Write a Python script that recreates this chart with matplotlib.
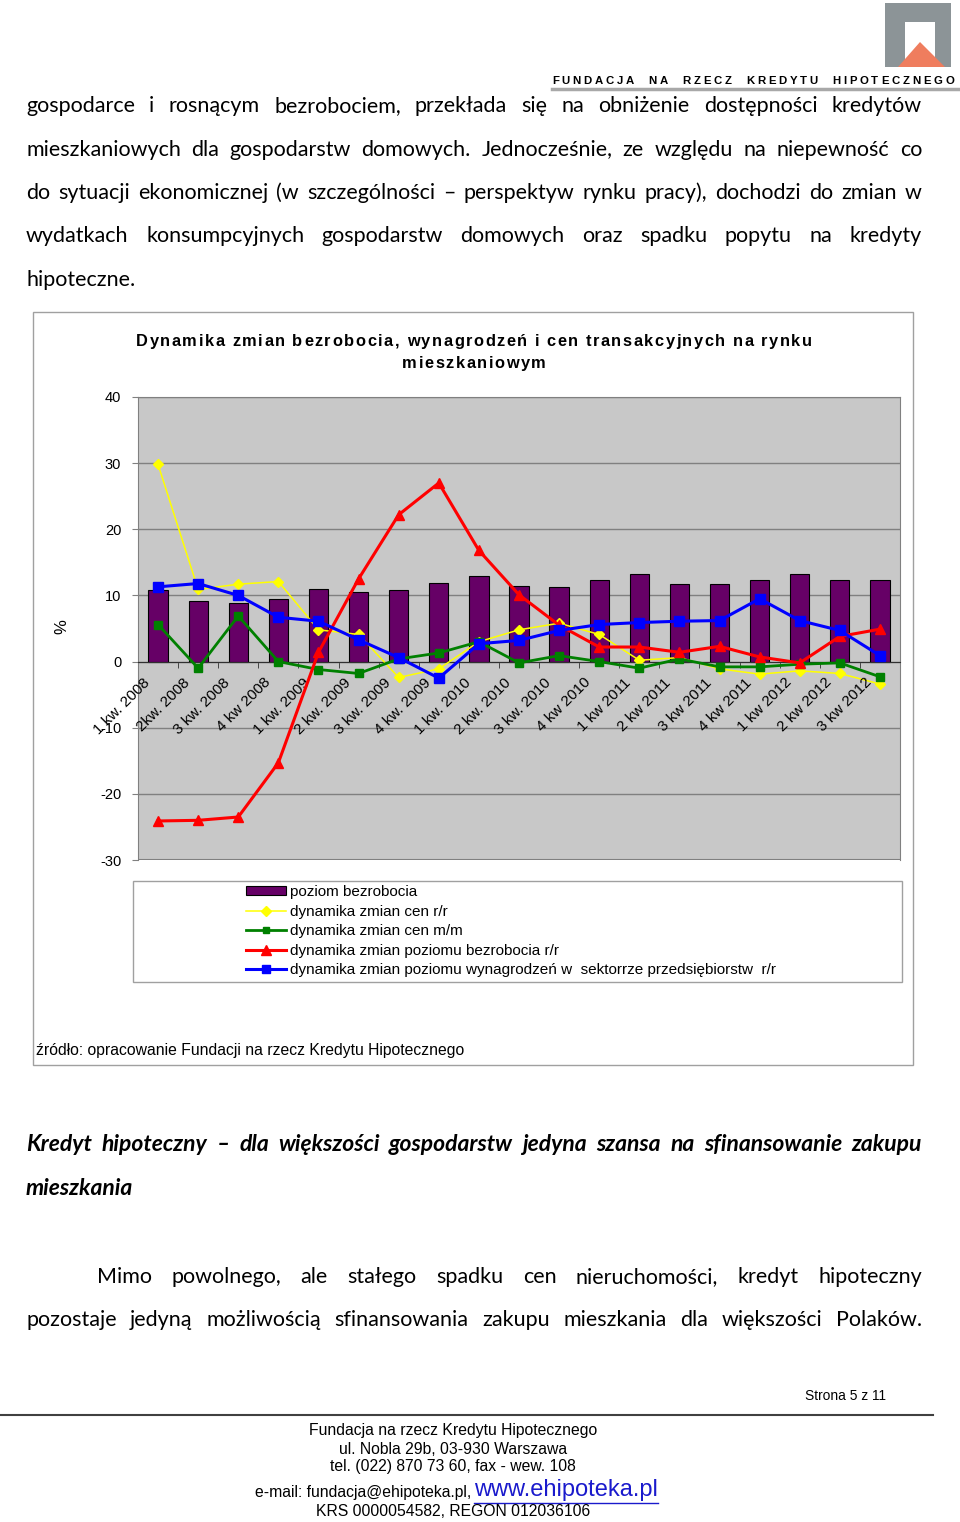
import matplotlib
matplotlib.use("Agg")
import matplotlib.pyplot as plt
import matplotlib.patches as mpatches
from matplotlib.lines import Line2D
import numpy as np

# ── Data ─────────────────────────────────────────────────────────────────────
quarters = ["1 kw. 2008", "2kw. 2008", "3 kw. 2008", "4 kw 2008",
            "1 kw. 2009", "2 kw. 2009", "3 kw. 2009", "4 kw. 2009",
            "1 kw. 2010", "2 kw. 2010", "3 kw. 2010", "4 kw 2010",
            "1 kw 2011", "2 kw 2011", "3 kw 2011", "4 kw 2011",
            "1 kw 2012", "2 kw 2012", "3 kw 2012"]
bezrobocie = [10.8, 9.2, 8.8, 9.4, 10.9, 10.5, 10.8, 11.9, 12.9, 11.5,
              11.3, 12.3, 13.3, 11.7, 11.7, 12.3, 13.3, 12.3, 12.3]
ceny_rr = [29.8, 10.9, 11.7, 12.1, 4.8, 4.1, -2.4, -1.1, 3.0, 4.8,
           5.8, 4.1, 0.2, 0.6, -1.1, -1.9, -1.4, -1.8, -3.4]
ceny_mm = [5.6, -1.0, 6.9, 0.0, -1.2, -1.8, 0.4, 1.3, 3.0, -0.2,
           0.9, 0.0, -1.0, 0.4, -0.8, -0.8, -0.4, -0.2, -2.3]
bezrobocie_rr = [-24.1, -24.0, -23.5, -15.3, 1.4, 12.5, 22.2, 27.0, 16.8, 10.1,
                 5.5, 2.2, 2.2, 1.4, 2.3, 0.7, -0.2, 3.8, 4.9]
wynagrodzenia_rr = [11.3, 11.8, 10.0, 6.7, 6.1, 3.3, 0.6, -2.5, 2.7, 3.2,
                    4.7, 5.6, 5.9, 6.1, 6.2, 9.5, 6.2, 4.7, 0.9]
y_ticks = [-30, -20, -10, 0, 10, 20, 30, 40]

# ── Page texts ───────────────────────────────────────────────────────────────
para1 = [
    "gospodarce i rosnącym bezrobociem, przekłada się na obniżenie dostępności kredytów",
    "mieszkaniowych dla gospodarstw domowych. Jednocześnie, ze względu na niepewność co",
    "do sytuacji ekonomicznej (w szczególności – perspektyw rynku pracy), dochodzi do zmian w",
    "wydatkach konsumpcyjnych gospodarstw domowych oraz spadku popytu na kredyty",
]
para1_last = "hipoteczne."
heading = "Kredyt hipoteczny – dla większości gospodarstw jedyna szansa na sfinansowanie zakupu"
heading_last = "mieszkania"
para2 = ["Mimo powolnego, ale stałego spadku cen nieruchomości, kredyt hipoteczny",
         "pozostaje jedyną możliwością sfinansowania zakupu mieszkania dla większości Polaków."]
chart_title = ["Dynamika zmian bezrobocia, wynagrodzeń i cen transakcyjnych na rynku",
               "mieszkaniowym"]

W, H = 960, 1522
fig = plt.figure(figsize=(W / 100, H / 100), dpi=100)
fig.patch.set_facecolor("white")
renderer = fig.canvas.get_renderer()

BODY = ["Lato", "DejaVu Sans"]
ARIAL = ["Liberation Sans", "DejaVu Sans"]


def fx(x):
    return x / W


def fy(y):
    return 1 - y / H


def ptext(x, y, s, **kw):
    return fig.text(fx(x), fy(y), s, **kw)


def width_of(s, **kw):
    t = ptext(0, 0, "|" + s + "|", **kw)
    t2 = ptext(0, 0, "||", **kw)
    w = t.get_window_extent(renderer).width - t2.get_window_extent(renderer).width
    t.remove()
    t2.remove()
    return w


def justify(line, x0, x1, yb, **kw):
    words = line.split()
    texts = [ptext(0, yb, w, va="baseline", ha="left", **kw) for w in words]
    widths = [t.get_window_extent(renderer).width for t in texts]
    gap = (x1 - x0 - sum(widths)) / (len(words) - 1)
    x = x0
    for t, w in zip(texts, widths):
        t.set_x(fx(x))
        x += w + gap


def tracked(s, x0, y, track, **kw):
    """Draw s char by char from x0 with extra spacing."""
    x = x0
    for c in s:
        w = width_of(c, **kw)
        if c != " ":
            ptext(x, y, c, ha="left", va="baseline", **kw)
        x += w + track


def tracked_width(s, track, **kw):
    return sum(width_of(c, **kw) for c in s) + track * (len(s) - 1)


def prect(x0, y0, x1, y1, **kw):
    fig.patches.append(mpatches.Rectangle((fx(x0), fy(y1)), fx(x1) - fx(x0),
                                          fy(y0) - fy(y1), transform=fig.transFigure,
                                          figure=fig, **kw))


def pline(xs, ys, **kw):
    fig.lines.append(Line2D([fx(x) for x in xs], [fy(y) for y in ys],
                            transform=fig.transFigure, figure=fig, **kw))


# ── Header logo ──────────────────────────────────────────────────────────────
prect(885, 3, 951, 67, facecolor="#8c9497", edgecolor="none")
prect(905, 22, 935, 67, facecolor="white", edgecolor="none")
fig.patches.append(mpatches.Polygon([(fx(898), fy(67)), (fx(920), fy(42)), (fx(945), fy(67))],
                                    closed=True, transform=fig.transFigure, figure=fig,
                                    facecolor="#ef7d5e", edgecolor="none"))
hdr = "FUNDACJA  NA  RZECZ  KREDYTU  HIPOTECZNEGO"
hdr_kw = dict(family=ARIAL, fontsize=8.2, fontweight="bold")
hdr_track = (954 - 552 - tracked_width(hdr, 0, **hdr_kw)) / (len(hdr) - 1)
tracked(hdr, 552, 84, hdr_track, **hdr_kw)
pline([552, 958], [88.5, 88.5], color="#a8a8a8", lw=2.5)

# ── Body text ────────────────────────────────────────────────────────────────
baselines = [112, 155.5, 199, 242.5]
for line, yb in zip(para1, baselines):
    justify(line, 26, 922, yb, family=BODY, fontsize=15.5)
ptext(26, 286, para1_last, family=BODY, fontsize=15.5, va="baseline")

justify(heading, 26, 922, 1151, family=BODY, fontsize=16.5, fontweight="bold", style="italic")
ptext(26, 1195, heading_last, family=BODY, fontsize=16.5, fontweight="bold",
      style="italic", va="baseline")
justify(para2[0], 97, 922, 1283, family=BODY, fontsize=15.5)
justify(para2[1], 26, 922, 1326, family=BODY, fontsize=15.5)

# ── Chart frame ──────────────────────────────────────────────────────────────
prect(33, 312, 913, 1065, facecolor="white", edgecolor="#a0a0a0", lw=1.0, zorder=0)
ttl_kw = dict(family=ARIAL, fontsize=11.8, fontweight="bold")
ttl_track = (676 - tracked_width(chart_title[0], 0, **ttl_kw)) / (len(chart_title[0]) - 1)
for s, yb in zip(chart_title, [346, 368]):
    w = tracked_width(s, ttl_track, **ttl_kw)
    tracked(s, 474 - w / 2, yb, ttl_track, **ttl_kw)
ptext(62, 627, "%", family=ARIAL, fontsize=12, rotation=90, ha="center", va="center")

ax = fig.add_axes([fx(138), fy(860), fx(900) - fx(138), fy(397) - fy(860)])
ax.set_zorder(3)
ax.set_facecolor("#c8c8c8")
x = np.arange(len(quarters))
ax.bar(x, bezrobocie, width=0.48, color="#660066", edgecolor="black", lw=0.8, zorder=2)
ax.plot(x, ceny_rr, color="#ffff00", lw=1.1, marker="D", ms=5.5, zorder=3)
ax.plot(x, ceny_mm, color="#008000", lw=2.0, marker="s", ms=5.5, zorder=4)
ax.plot(x, bezrobocie_rr, color="#ff0000", lw=2.2, marker="^", ms=7, zorder=5)
ax.plot(x, wynagrodzenia_rr, color="#0000ff", lw=2.2, marker="s", ms=6.5, zorder=6)

ax.set_xlim(-0.5, len(quarters) - 0.5)
ax.set_ylim(y_ticks[0], y_ticks[-1])
ax.set_yticks(y_ticks)
ax.set_yticklabels([str(v) for v in y_ticks], family=ARIAL, fontsize=10.5)
ax.tick_params(axis="y", length=4, color="#808080", pad=8)
ax.grid(axis="y", color="#808080", lw=1.0, zorder=1)
ax.set_axisbelow(True)
for s in ax.spines.values():
    s.set_color("#808080")
ax.spines["bottom"].set_position(("data", 0))
ax.spines["bottom"].set_color("#303030")
ax.set_xticks(x - 0.5, minor=True)
ax.set_xticks([])
ax.tick_params(axis="x", which="minor", length=4, color="#303030", direction="out")
ax.axhline(y_ticks[0], color="#808080", lw=1.5, zorder=1)
for i, q in enumerate(quarters):
    ax.annotate(q, xy=(i, 0), xytext=(-11, -10), textcoords="offset points",
                rotation=45, ha="right", va="top", rotation_mode="anchor",
                family=ARIAL, fontsize=11, annotation_clip=False)

# ── Legend ───────────────────────────────────────────────────────────────────
prect(133, 881, 902, 982, facecolor="white", edgecolor="#a0a0a0", lw=1.0, zorder=0)
handles = [
    mpatches.Patch(facecolor="#660066", edgecolor="black", lw=0.8),
    Line2D([], [], color="#ffff00", lw=1.1, marker="D", ms=5),
    Line2D([], [], color="#008000", lw=2.0, marker="s", ms=5),
    Line2D([], [], color="#ff0000", lw=2.2, marker="^", ms=6.5),
    Line2D([], [], color="#0000ff", lw=2.2, marker="s", ms=6),
]
labels = ["poziom bezrobocia", "dynamika zmian cen r/r", "dynamika zmian cen m/m",
          "dynamika zmian poziomu bezrobocia r/r",
          "dynamika zmian poziomu wynagrodzeń w  sektorrze przedsiębiorstw  r/r"]
fig.legend(handles, labels, loc="upper left", bbox_to_anchor=(fx(237), fy(876)),
           frameon=False, prop={"family": ARIAL, "size": 11}, handlelength=2.6,
           handleheight=0.55, handletextpad=0.25, labelspacing=0.36, borderpad=0.1,
           numpoints=1)

ptext(36, 1050, "źródło: opracowanie Fundacji na rzecz Kredytu Hipotecznego",
      family=ARIAL, fontsize=11.3, va="center")

# ── Footer ───────────────────────────────────────────────────────────────────
ptext(886, 1396, "Strona 5 z 11", family=ARIAL, fontsize=9.9, ha="right", va="center")
pline([0, 933], [1415, 1415], color="#404040", lw=1.5)
footer = ["Fundacja na rzecz Kredytu Hipotecznego", "ul. Nobla 29b, 03-930 Warszawa",
          "tel. (022) 870 73 60, fax - wew. 108"]
for s, yy in zip(footer, [1431, 1449, 1467]):
    ptext(453, yy, s, family=ARIAL, fontsize=11.3, ha="center", va="center")
ptext(471, 1493, "e-mail: fundacja@ehipoteka.pl,", family=ARIAL, fontsize=11.3,
      ha="right", va="center")
www = ptext(474, 1490, "www.ehipoteka.pl", family=ARIAL, fontsize=17, color="#1a1acc",
            ha="left", va="center")
ww = www.get_window_extent(renderer).width
pline([474, 474 + ww], [1503, 1503], color="#1a1acc", lw=1)
ptext(453, 1512, "KRS 0000054582, REGON 012036106", family=ARIAL, fontsize=11.3,
      ha="center", va="center")

fig.savefig("out.png", dpi=100)
